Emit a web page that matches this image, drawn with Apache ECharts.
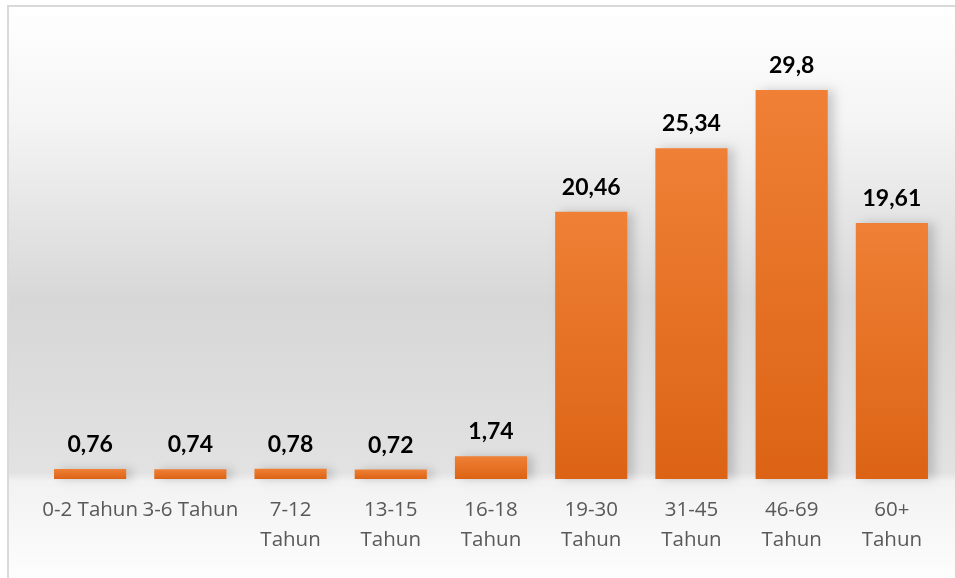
<!DOCTYPE html>
<html>
<head>
<meta charset="utf-8">
<script src="https://cdn.jsdelivr.net/npm/echarts@6/dist/echarts.min.js"></script>
<style>
  html, body { margin: 0; padding: 0; background: #fff; }
  #main { width: 955px; height: 578px; }
</style>
</head>
<body>
<div id="main"></div>
<script>
  // kelompok umur
  let categories = ['0-2 Tahun', '3-6 Tahun', '7-12\nTahun', '13-15\nTahun', '16-18\nTahun',
    '19-30\nTahun', '31-45\nTahun', '46-69\nTahun', '60+\nTahun']
  let values = [0.76, 0.74, 0.78, 0.72, 1.74, 20.46, 25.34, 29.8, 19.61]

  let chart = echarts.init(document.getElementById('main'))
  chart.setOption({
    animation: false,
    graphic: [
      {
        type: 'rect',
        z: -10,
        shape: { x: 8, y: 6, width: 960, height: 590 },
        style: {
          fill: new echarts.graphic.LinearGradient(0, 0, 0, 1, [
            { offset: 0, color: '#ffffff' },
            { offset: 0.2, color: '#f4f4f4' },
            { offset: 0.5, color: '#d7d7d7' },
            { offset: 0.79, color: '#e2e2e2' },
            { offset: 0.805, color: '#f2f2f2' },
            { offset: 1, color: '#ffffff' }
          ]),
          stroke: '#d9d9d9',
          lineWidth: 2
        }
      }
    ],
    grid: {
      left: 40,
      right: 13,
      top: 22,
      bottom: 99
    },
    xAxis: {
      type: 'category',
      data: categories,
      axisLine: { show: false },
      axisTick: { show: false },
      axisLabel: {
        interval: 0,
        margin: 16,
        color: '#595959',
        fontFamily: 'Open Sans',
        fontSize: 20.5,
        lineHeight: 30
      }
    },
    yAxis: {
      type: 'value',
      min: 0,
      max: 35,
      show: false,
      splitLine: { show: false }
    },
    series: [
      {
        type: 'bar',
        data: values,
        barWidth: '72%',
        itemStyle: {
          color: new echarts.graphic.LinearGradient(0, 0, 0, 1, [
            { offset: 0, color: '#ef8035' },
            { offset: 1, color: '#dc6315' }
          ]),
          shadowColor: 'rgba(0,0,0,0.18)',
          shadowBlur: 10,
          shadowOffsetX: 6
        },
        label: {
          show: true,
          position: 'top',
          distance: 13,
          color: '#000',
          fontFamily: 'Lato',
          fontWeight: 'bold',
          fontSize: 23,
          formatter: function (p) {
            return String(p.value).replace('.', ',')
          }
        }
      }
    ]
  })
</script>
</body>
</html>
